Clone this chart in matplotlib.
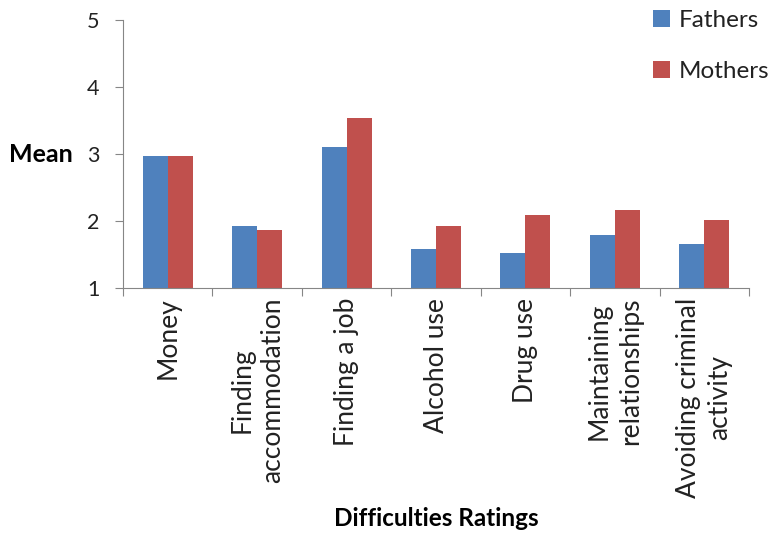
import numpy as np
import matplotlib
matplotlib.use("Agg")
import matplotlib.pyplot as plt

# Mean difficulty ratings by parent group
categories = [
    "Money",
    "Finding\naccommodation",
    "Finding a job",
    "Alcohol use",
    "Drug use",
    "Maintaining\nrelationships",
    "Avoiding criminal\nactivity",
]
fathers = [2.97, 1.93, 3.11, 1.58, 1.52, 1.79, 1.65]
mothers = [2.97, 1.87, 3.53, 1.92, 2.09, 2.17, 2.01]
series_names = ["Fathers", "Mothers"]
yticks = [1, 2, 3, 4, 5]

plt.rcParams["font.family"] = ["Lato", "DejaVu Sans"]
axis_grey = "#868686"

fig = plt.figure(figsize=(7.69, 5.33), dpi=100)
ax = fig.add_axes([0.16, 0.4597, 0.814, 0.5028])

x = np.arange(len(categories))
w = 0.28
ax.bar(x - w / 2, [v - 1 for v in fathers], w, bottom=1, color="#4F81BD",
       label=series_names[0], linewidth=0)
ax.bar(x + w / 2, [v - 1 for v in mothers], w, bottom=1, color="#C0504D",
       label=series_names[1], linewidth=0)

ax.set_xlim(-0.5, len(categories) - 0.5)
ax.set_ylim(1, 5)
ax.set_yticks(yticks)
ax.set_yticklabels([str(t) for t in yticks], fontsize=15.5, color="#222222")

# category ticks sit between groups, labels centred under each group
ax.set_xticks(np.arange(len(categories) + 1) - 0.5)
ax.set_xticklabels([])
ax.set_xticks(x, minor=True)
ax.set_xticklabels(categories, minor=True, rotation=90, fontsize=19, color="#222222",
                   ha="center", va="top", multialignment="center", linespacing=1.3)
ax.tick_params(axis="x", which="minor", length=0, pad=7)
ax.tick_params(axis="x", which="major", length=6, color=axis_grey, direction="out")
ax.tick_params(axis="y", length=6, color=axis_grey, direction="out", pad=11)

for side in ["top", "right"]:
    ax.spines[side].set_visible(False)
for side in ["left", "bottom"]:
    ax.spines[side].set_color(axis_grey)

ax.set_ylabel("Mean", rotation=0, fontsize=18, fontweight="bold",
              ha="right", va="center")
ax.yaxis.set_label_coords(-0.08, 0.497)
ax.set_xlabel("Difficulties Ratings", fontsize=17.5, fontweight="bold", va="center")
ax.xaxis.set_label_coords(0.5, -0.86)

ax.legend(loc="upper left", bbox_to_anchor=(653 / 769, 0.982), bbox_transform=fig.transFigure,
          frameon=False, fontsize=17.5, handlelength=0.7, handleheight=0.7,
          handletextpad=0.35, labelspacing=1.26, borderpad=0, borderaxespad=0,
          labelcolor="#222222")

fig.savefig("out.png", dpi=100)
